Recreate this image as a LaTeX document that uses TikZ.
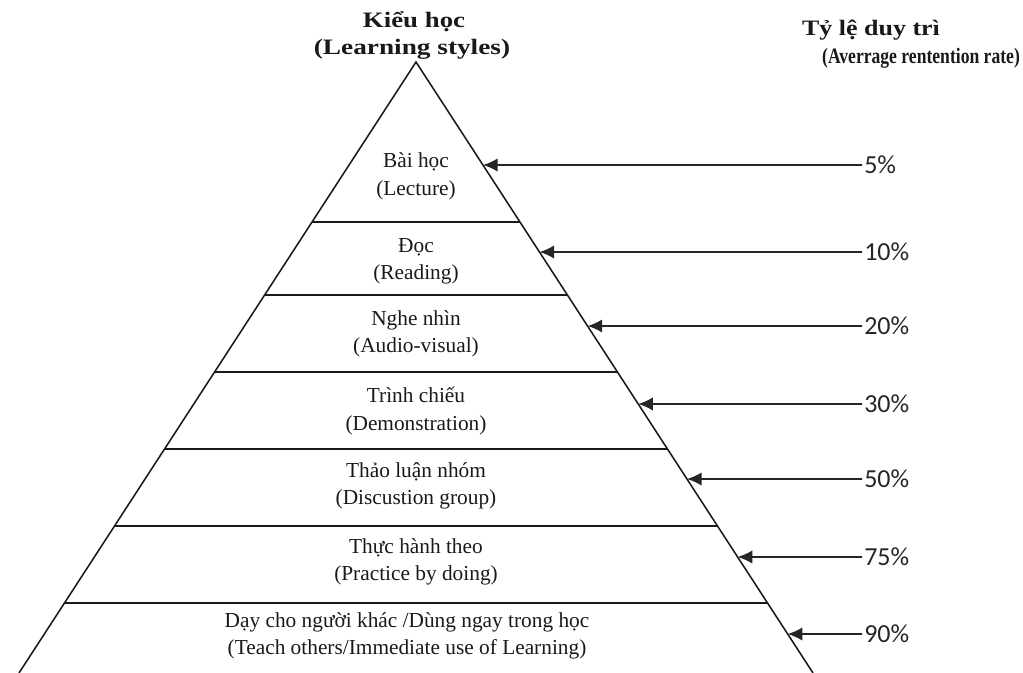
\documentclass[tikz,border=0pt]{standalone}
\usepackage{fontspec}
\setmainfont{Liberation Serif}
\newfontfamily\pctfont{Carlito}
\usetikzlibrary{calc,arrows.meta}
\begin{document}
\begin{tikzpicture}[x=0.75pt,y=-0.75pt,
  edge/.style={line width=1.15pt, black!90},
  level/.style={align=center, font=\fontsize{16}{20.5}\selectfont, inner sep=0pt, text=black!90},
  pct/.style={anchor=west, font=\pctfont\fontsize{19.5}{22}\selectfont, text=black!85, inner sep=1.5pt},
  ptr/.style={line width=1.2pt, black!85, -{Latex[length=11pt,width=10pt]}},
  title/.style={font=\bfseries\fontsize{16.5}{20}\selectfont, inner sep=0pt, text=black!90}]
\useasboundingbox (0,0) rectangle (1023,673);
\coordinate (A) at (416,62);
\coordinate (BL) at (19,673);
\coordinate (BR) at (813,673);
\draw[edge] (BL) -- (A) -- (BR);
\foreach \f [count=\i] in {0.2619,0.3813,0.5074,0.6334,0.7594,0.8854}{
  \coordinate (L\i) at ($(A)!\f!(BL)$);
  \coordinate (R\i) at ($(A)!\f!(BR)$);
  \draw[edge] (L\i) -- (R\i);
}
% titles
\node[title] (tl1) at (414,22) {\scalebox{1.22}[1]{Kiểu học}};
\node[title] (tl2) at (412,49) {\scalebox{1.24}[1]{(Learning styles)}};
\node[title] (tr1) at (871,30) {\scalebox{1.18}[1]{Tỷ lệ duy trì}};
\node[title] (tr2) at (921,58) {\scalebox{0.8}[1]{(Averrage rentention rate)}};
% levels
\node[level] (s1) at (416,176.5) {Bài học\\(Lecture)};
\node[level] (s2) at (416,261.5) {Đọc\\(Reading)};
\node[level] (s3) at (416,334) {Nghe nhìn\\(Audio-visual)};
\node[level] (s4) at (416,411) {Trình chiếu\\(Demonstration)};
\node[level] (s5) at (416,486) {Thảo luận nhóm\\(Discustion group)};
\node[level] (s6) at (416,562) {Thực hành theo\\(Practice by doing)};
\node[level] (s7) at (407,636) {Dạy cho người khác /Dùng ngay trong học\\(Teach others/Immediate use of Learning)};
% arrows
\foreach \f/\y/\p [count=\i] in {0.1686/165/5\%,0.3110/252/10\%,0.4321/326/20\%,0.5597/404/30\%,0.6825/479/50\%,0.8101/557/75\%,0.9362/634/90\%}{
  \coordinate (T\i) at ($(A)!\f!(BR)$);
  \node[pct] (p\i) at (862,\y) {\p};
  \draw[ptr] (p\i.west) -- (T\i);
}
\end{tikzpicture}
\end{document}
